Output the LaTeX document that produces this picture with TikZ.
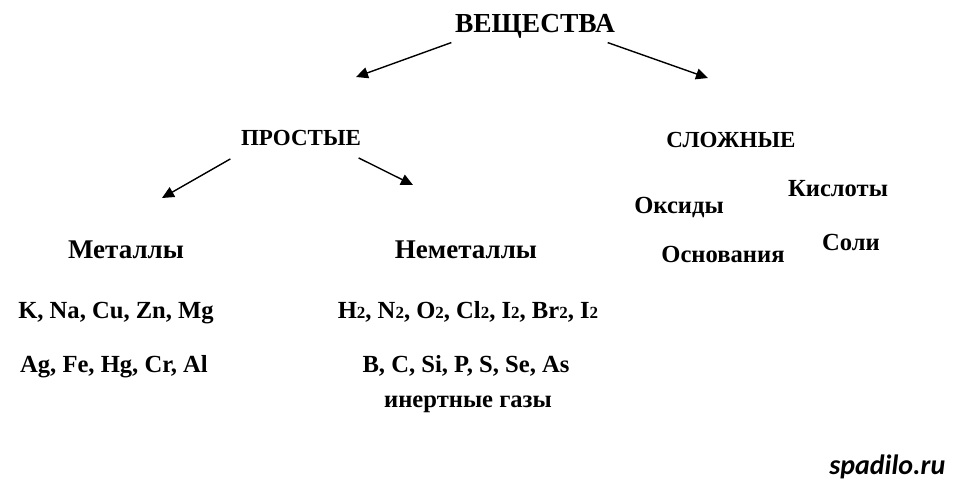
\documentclass[tikz,border=0pt]{standalone}
\usepackage{fontspec}
\setmainfont{Liberation Serif}
\newfontfamily\wmfont{Carlito}
\usetikzlibrary{arrows.meta}
\newcommand{\subn}[1]{{\fontsize{17}{17}\selectfont #1}}

\begin{document}
\begin{tikzpicture}[x=1pt,y=-1pt,>={Triangle[length=12pt,width=11pt]},line width=1.4pt,
        main/.style = {inner sep=0pt, anchor=base, font=\bfseries\fontsize{27.5}{30}\selectfont},
        kind/.style = {inner sep=0pt, anchor=base, font=\bfseries\fontsize{23}{26}\selectfont},
        group/.style = {inner sep=0pt, anchor=base, font=\bfseries\fontsize{27}{30}\selectfont},
        item/.style = {inner sep=0pt, anchor=base, font=\bfseries\fontsize{24.6}{28}\selectfont}]
        \useasboundingbox (0,0) rectangle (957,484);
        \node[main] (Substances) at (535,33) {ВЕЩЕСТВА};
        \node[kind] (Simple) at (301,145) {ПРОСТЫЕ};
        \node[kind] (Complex) at (731,147) {СЛОЖНЫЕ};
        \node[item] (Oxides) at (679,213) {Оксиды};
        \node[item] (Acids) at (838,196) {Кислоты};
        \node[item] (Bases) at (723,262) {Основания};
        \node[item] (Salts) at (851,250) {Соли};
        \node[group] (Metals) at (126,258) {Металлы};
        \node[group] (Nonmetals) at (466,258) {Неметаллы};
        \node[item] (MetalsA) at (116,318) {K, Na, Cu, Zn, Mg};
        \node[item] (MetalsB) at (114,372) {Ag, Fe, Hg, Cr, Al};
        \node[item] (NonmetalsA) at (468,318) {H\subn{2}, N\subn{2}, O\subn{2}, Cl\subn{2}, I\subn{2}, Br\subn{2}, I\subn{2}};
        \node[item] (NonmetalsB) at (466,372) {B, C, Si, P, S, Se, As};
        \node[item] (NobleGases) at (468,407) {инертные газы};
        \node[inner sep=0pt, anchor=base east, font=\wmfont\bfseries\itshape\fontsize{28}{30}\selectfont] (Site) at (946,474) {spadilo.ru};
        \coordinate (SimpleTip) at (356,77);
        \coordinate (ComplexTip) at (708,78);
        \coordinate (MetalsTip) at (162,198);
        \coordinate (NonmetalsTip) at (413,185);
        \draw[->] ([shift={(-3,3)}]Substances.south west) to (SimpleTip);
        \draw[->] ([shift={(-8,3)}]Substances.south east) to (ComplexTip);
        \draw[->] ([shift={(-10,13)}]Simple.south west) to (MetalsTip);
        \draw[->] ([shift={(-3,12)}]Simple.south east) to (NonmetalsTip);
    \end{tikzpicture}
\end{document}
